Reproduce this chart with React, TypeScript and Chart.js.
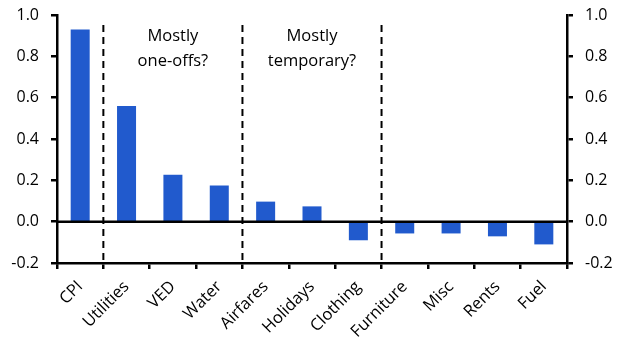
import React, { useEffect, useRef } from "react";
import { Chart, registerables } from "chart.js";

Chart.register(...registerables);

const categories = ["CPI", "Utilities", "VED", "Water", "Airfares", "Holidays", "Clothing", "Furniture", "Misc", "Rents", "Fuel"];
const values = [0.93, 0.56, 0.227, 0.175, 0.097, 0.074, -0.09, -0.057, -0.057, -0.071, -0.11];
const dividerAfter = [0, 3, 6];
const annotations = [
  { after: 0, lines: ["Mostly", "one-offs?"] },
  { after: 3, lines: ["Mostly", "temporary?"] },
];
const yMin = -0.2;
const yMax = 1.0;
const yStep = 0.2;

const FONT = "'Open Sans', sans-serif";
const BAR_COLOR = "#215acd";

const overlayPlugin = {
  id: "overlay",
  afterDatasetsDraw(chart: any) {
    const { ctx, chartArea, scales } = chart;
    const x = scales.x;
    const y = scales.y;
    ctx.save();
    const y0 = y.getPixelForValue(0);
    ctx.strokeStyle = "#000";
    ctx.lineWidth = 2.5;
    ctx.beginPath();
    ctx.moveTo(chartArea.left, y0);
    ctx.lineTo(chartArea.right, y0);
    ctx.stroke();
    ctx.setLineDash([7, 5]);
    ctx.lineWidth = 2;
    const topY = chartArea.top + 10;
    dividerAfter.forEach((i) => {
      const px = (x.getPixelForValue(i) + x.getPixelForValue(i + 1)) / 2;
      ctx.beginPath();
      ctx.moveTo(px, topY);
      ctx.lineTo(px, chartArea.bottom);
      ctx.stroke();
    });
    ctx.setLineDash([]);
    ctx.fillStyle = "#000";
    ctx.font = `16.5px ${FONT}`;
    ctx.textAlign = "center";
    ctx.textBaseline = "middle";
    annotations.forEach((a) => {
      const left = (x.getPixelForValue(a.after) + x.getPixelForValue(a.after + 1)) / 2;
      const nextIdx = dividerAfter[dividerAfter.indexOf(a.after) + 1];
      const right = (x.getPixelForValue(nextIdx) + x.getPixelForValue(nextIdx + 1)) / 2;
      const cx = (left + right) / 2;
      a.lines.forEach((t, k) => {
        ctx.fillText(t, cx, chartArea.top + 21 + k * 25);
      });
    });
    ctx.restore();
  },
};

const fmt = (v: any) => {
  const r = Math.round(Number(v) * 10) / 10;
  return (Math.abs(r) < 1e-9 ? 0 : r).toFixed(1);
};

export default function App() {
  const ref = useRef<HTMLCanvasElement>(null);
  useEffect(() => {
    if (!ref.current) return;
    const tickFont = { family: FONT, size: 16 };
    const yAxisCommon = {
      min: yMin,
      max: yMax,
      ticks: {
        stepSize: yStep,
        color: "#000",
        font: tickFont,
        padding: 12,
        callback: fmt,
      },
      grid: { drawOnChartArea: false, drawTicks: true, tickLength: 6, color: "#000", lineWidth: 2.5 },
      border: { display: true, color: "#000", width: 2.5 },
    };
    const chart = new Chart(ref.current, {
      type: "bar",
      data: {
        labels: categories,
        datasets: [
          {
            data: values,
            backgroundColor: BAR_COLOR,
            categoryPercentage: 1,
            barPercentage: 0.41,
            yAxisID: "y",
          },
        ],
      },
      options: {
        animation: false,
        responsive: false,
        maintainAspectRatio: false,
        layout: { padding: { top: 15, right: 0, left: 0, bottom: 0 } },
        plugins: { legend: { display: false }, tooltip: { enabled: false } },
        scales: {
          x: {
            ticks: { color: "#000", font: { family: FONT, size: 16.5 }, minRotation: 45, maxRotation: 45, padding: 8, autoSkip: false },
            grid: { drawOnChartArea: false, drawTicks: true, tickLength: 6, color: "#000", lineWidth: 2.5, offset: true },
            border: { display: true, color: "#000", width: 2.5 },
            afterFit: (s: any) => {
              s.height = 92;
              s.paddingLeft = 0;
              s.paddingRight = 0;
            },
          },
          y: {
            position: "left",
            ...yAxisCommon,
            afterFit: (s: any) => {
              s.width = 57;
              s.paddingTop = 0;
              s.paddingBottom = 0;
            },
          },
          y2: {
            position: "right",
            display: true,
            ...yAxisCommon,
            afterFit: (s: any) => {
              s.width = 62;
              s.paddingTop = 0;
              s.paddingBottom = 0;
            },
          },
        },
      },
      plugins: [overlayPlugin],
    });
    return () => chart.destroy();
  }, []);
  return (
    <div style={{ position: "absolute", left: 0, top: 0, width: 629, height: 355, background: "#fff" }}>
      <canvas ref={ref} width={629} height={355} style={{ display: "block" }} />
    </div>
  );
}
